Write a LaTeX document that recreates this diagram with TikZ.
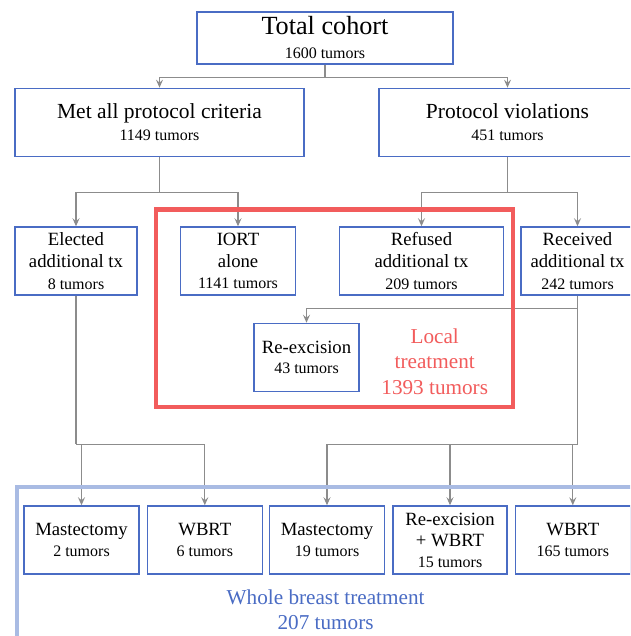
\documentclass[tikz,border=0pt]{standalone}
\usepackage{fontspec}
\setmainfont{Liberation Serif}
\usetikzlibrary{arrows.meta}
\definecolor{boxblue}{HTML}{4A6CC4}
\definecolor{lightblue}{HTML}{A9BBE3}
\definecolor{localred}{HTML}{F25C5C}
\definecolor{conngray}{HTML}{8C8C8C}
\newcommand\tumcount[1]{{\fontsize{16}{20}\selectfont #1}}
\tikzset{
  box/.style={draw=boxblue, line width=1.5pt, fill=white, inner sep=0pt,
    align=flush center, minimum height=68pt},
  bigtxt/.style={font=\fontsize{26.2}{23.7}\selectfont},
  largetxt/.style={font=\fontsize{21.5}{21.7}\selectfont},
  medtxt/.style={font=\fontsize{18.7}{21.8}\selectfont},
  medtxtb/.style={font=\fontsize{18.7}{20.6}\selectfont},
  medtxtc/.style={font=\fontsize{18.7}{21}\selectfont},
  conn/.style={draw=conngray, line width=1.1pt},
  arr/.style={conn, -{Stealth[length=8pt,width=7pt,inset=3pt]}},
  frametxt/.style={font=\fontsize{21.2}{25.7}\selectfont, inner sep=0pt, align=flush center, text width=280pt},
}
\begin{document}
\begin{tikzpicture}[x=1pt,y=-1pt]
\useasboundingbox (0,0) rectangle (630,636);
\clip (0,0) rectangle (630,636);
\fill[white] (0,0) rectangle (630,636);

% top levels
\node[box, bigtxt, minimum width=256pt, minimum height=52pt, text width=250pt] (total) at (325,37.8)
  {Total cohort\\\tumcount{1600 tumors}};
\node[box, largetxt, minimum width=289pt, text width=283pt] (met) at (159.5,122.4)
  {Met all protocol criteria\\\tumcount{1149 tumors}};
\node[box, largetxt, minimum width=257pt, text width=251pt] (viol) at (507.5,122.4)
  {Protocol violations\\\tumcount{451 tumors}};

% second level
\node[box, medtxt, minimum width=122pt, text width=118pt] (elected) at (76,261)
  {Elected\\additional tx\\\tumcount{8 tumors}};
\node[box, medtxt, minimum width=115pt, text width=111pt] (iort) at (238,261)
  {IORT\\alone\\\tumcount{1141 tumors}};
\node[box, medtxt, minimum width=164pt, text width=160pt] (refused) at (421.5,261)
  {Refused\\additional tx\\\tumcount{209 tumors}};
\node[box, medtxt, minimum width=113pt, text width=111pt] (received) at (577.5,261)
  {Received\\additional tx\\\tumcount{242 tumors}};

\node[box, medtxtb, minimum width=105pt, text width=101pt] (reex) at (306.5,357.5)
  {Re-excision\\\tumcount{43 tumors}};

% bottom level
\node[box, medtxtb, minimum width=115pt, text width=111pt] (m1) at (81.5,540)
  {Mastectomy\\\tumcount{2 tumors}};
\node[box, medtxtb, minimum width=115pt, text width=111pt] (w1) at (204.8,540)
  {WBRT\\\tumcount{6 tumors}};
\node[box, medtxtb, minimum width=115pt, text width=111pt] (m2) at (327,540)
  {Mastectomy\\\tumcount{19 tumors}};
\node[box, medtxtc, minimum width=114pt, text width=111pt] (rw) at (450,540)
  {Re-excision\\+ WBRT\\\tumcount{15 tumors}};
\node[box, medtxtb, minimum width=115pt, text width=111pt] (w2) at (572.8,540)
  {WBRT\\\tumcount{165 tumors}};

% connectors
\coordinate (rs) at (577.5,308.3);
\coordinate (rb) at (577.5,444.3);
\coordinate (lb) at (76,444.3);
\draw[arr] (total.south) -- ++(0,12.8) -| (met.north);
\draw[arr] (total.south) -- ++(0,12.8) -| (viol.north);
\draw[arr] (met.south) -- ++(0,35) -| (elected.north);
\draw[arr] (met.south) -- ++(0,35) -| (iort.north);
\draw[arr] (viol.south) -- ++(0,35) -| (refused.north);
\draw[arr] (viol.south) -- ++(0,35) -| (received.north);
\draw[conn] (received.south) -- (rb);
\draw[arr] (rs) -| (reex.north);
\draw[arr] (rb) -| (m2.north);
\draw[arr] (rw.north |- rb) -- (rw.north);
\draw[arr] (w2.north |- rb) -- (w2.north);
\draw[conn] (elected.south) -- (lb);
\draw[arr] (lb) -| (w1.north);
\draw[arr] (m1.north |- lb) -- (m1.north);

% frames
\draw[localred, line width=4pt] (156.3,209.5) rectangle (512.5,406.8);
\draw[lightblue, line width=4pt] (17,487.2) rectangle (660,680);

\node[frametxt, text=localred] (localtxt) at (434.7,361.6)
  {Local\\treatment\\1393 tumors};
\node[frametxt, text=boxblue] (wholetxt) at (325.6,609.7)
  {Whole breast treatment\\207 tumors};
\end{tikzpicture}
\end{document}
